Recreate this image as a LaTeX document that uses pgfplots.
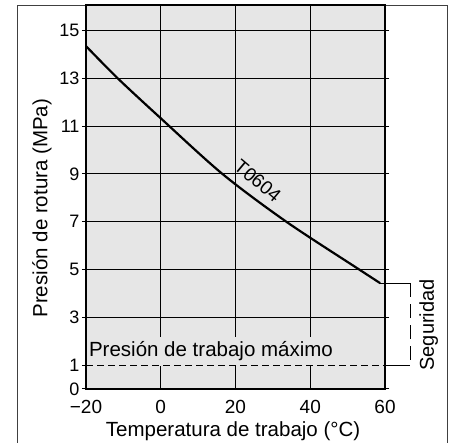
\documentclass[border=0pt]{standalone}
\usepackage{fontspec}
\setmainfont{Liberation Sans}
\usepackage{pgfplots}
\pgfplotsset{compat=1.18}
\definecolor{panel}{HTML}{E6E6E6}

\begin{document}
\begin{tikzpicture}
\useasboundingbox (-86pt,-54pt) rectangle (368pt,389pt);
% outer frame (bottom edge lies below the picture)
\draw[black!75,line width=0.8pt] (-69pt,-60pt) -- (-69pt,384pt) -- (361pt,384pt) -- (361pt,-60pt);
\begin{axis}[
  at={(0,0)},anchor=south west,
  scale only axis,width=299pt,height=384pt,
  xmin=-20,xmax=60,ymin=0,ymax=16.07,
  clip=false,
  /pgf/number format/assume math mode=true,
  axis background/.style={fill=panel},
  axis line style={line width=1.1pt},
  xtick={-20,0,20,40,60},
  xticklabels={−20,0,20,40,60},
  ytick={3,5,7,9,11,13,15},
  extra y ticks={0,1},
  extra y tick style={grid=none},
  xmajorgrids,ymajorgrids,
  grid style={black,line width=1.1pt},
  xtick style={draw=none},
  ytick style={black,line width=1pt},
  tick align=outside,major tick length=4pt,
  ticklabel style={font=\fontsize{18}{18}\selectfont},
  xticklabel style={yshift=-4pt,font=\fontsize{19}{19}\selectfont},
  yticklabel style={xshift=1pt},
  xlabel={Temperatura de trabajo (°C)},
  ylabel={Presión de rotura (MPa)},
  label style={font=\fontsize{20.5}{22}\selectfont},
  xlabel style={at={(axis description cs:0.492,-0.111)},anchor=center},
  ylabel style={at={(axis description cs:-0.147,0.471)},anchor=center},
]
\addplot[black,line width=2.2pt,smooth] coordinates {
  (-20,14.35) (-11.5,13) (0,11.33) (16.5,9) (33.6,7) (53.1,5) (58.7,4.43)};

\node[anchor=base west,fill=panel,inner xsep=1pt,inner ysep=5pt,
  font=\fontsize{20.5}{22}\selectfont] at (axis cs:-19.5,1.34) {Presión de trabajo máximo};
\draw[black,line width=1pt,dash pattern=on 7pt off 4pt] (axis cs:-20,1) -- (axis cs:60,1);

\node[rotate=-40,anchor=south,inner sep=1pt,font=\fontsize{19}{20}\selectfont] at (axis cs:24.6,8.45) {T0604};

% safety margin bracket
\draw[black,line width=1pt] (axis cs:58.7,4.43) -- (axis cs:66.7,4.43);
\draw[black,line width=1pt,dash pattern=on 14pt off 7pt] (axis cs:66.7,4.43) -- (axis cs:66.7,1);
\draw[black,line width=1pt] (axis cs:60,1) -- (axis cs:66.7,1);
\node[rotate=90,font=\fontsize{20}{22}\selectfont] at (axis cs:71.7,2.68) {Seguridad};
\end{axis}
\end{tikzpicture}
\end{document}
